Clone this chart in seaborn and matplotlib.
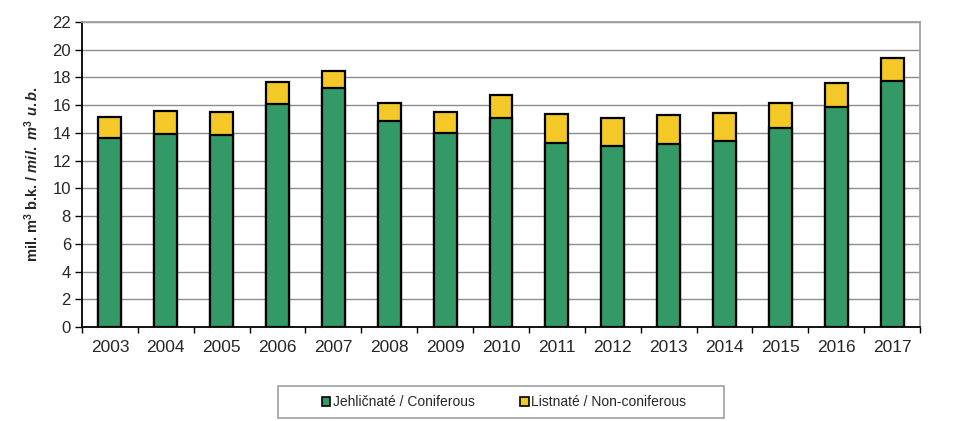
import pandas as pd
import seaborn as sns
import matplotlib.pyplot as plt
from matplotlib.patches import Patch, Rectangle

# data
years = ['2003', '2004', '2005', '2006', '2007', '2008', '2009', '2010',
         '2011', '2012', '2013', '2014', '2015', '2016', '2017']
coniferous = [13.62, 13.89, 13.85, 16.08, 17.22, 14.86, 14.00, 15.07,
              13.29, 13.02, 13.17, 13.43, 14.35, 15.89, 17.75]
non_coniferous = [1.50, 1.71, 1.65, 1.60, 1.28, 1.32, 1.48, 1.64,
                  2.07, 2.03, 2.15, 2.03, 1.79, 1.71, 1.62]

df = pd.DataFrame({'year': years, 'conif': coniferous, 'nonconif': non_coniferous})
df['total'] = df['conif'] + df['nonconif']

green = '#339966'
yellow = '#F4C826'

sns.set_style('white')
plt.rcParams['font.family'] = ['Liberation Sans', 'DejaVu Sans']
plt.rcParams['mathtext.fontset'] = 'custom'
plt.rcParams['mathtext.rm'] = 'Liberation Sans:bold'
plt.rcParams['mathtext.it'] = 'Liberation Sans:italic:bold'

fig = plt.figure(figsize=(9.7, 4.21), dpi=100)
ax = fig.add_axes([82 / 970, 1 - 327 / 421, (920 - 82) / 970, (327 - 22) / 421])

# yellow totals first, green drawn over them -> stacked look
sns.barplot(data=df, x='year', y='total', color=yellow, width=0.41,
            edgecolor='black', linewidth=1.6, saturation=1, ax=ax, zorder=3)
sns.barplot(data=df, x='year', y='conif', color=green, width=0.41,
            edgecolor='black', linewidth=1.6, saturation=1, ax=ax, zorder=4)

ax.set_ylim(0, 22)
ax.set_xlim(-0.5, len(years) - 0.5)
ax.set_yticks(range(0, 23, 2))
ax.yaxis.grid(True, color='#8c8c8c', linewidth=1)
ax.set_axisbelow(True)

ax.tick_params(axis='y', labelsize=12, direction='out', length=5, width=1, color='black', left=True, pad=3)
ax.tick_params(axis='x', labelsize=12.5, length=0, pad=9)
ax.set_xticks([i + 0.5 for i in range(-1, len(years))], minor=True)
ax.tick_params(axis='x', which='minor', direction='out', length=4, width=1, color='black', bottom=True)

for side in ['left', 'bottom']:
    ax.spines[side].set_color('black')
    ax.spines[side].set_linewidth(1.3)
for side in ['top', 'right']:
    ax.spines[side].set_color('#a0a0a0')
    ax.spines[side].set_linewidth(1.3)

ax.set_xlabel('')
ax.set_ylabel(r'mil. m$^3$ b.k. / $\mathit{mil.\ m^3\ u.b.}$', fontsize=10.5, fontweight='bold', labelpad=8)

# legend box drawn separately so it can be wider than the entries
fig.patches.append(Rectangle((278 / 970, 1 - 418 / 421), 446 / 970, 32 / 421,
                             transform=fig.transFigure, facecolor='white',
                             edgecolor='#a0a0a0', linewidth=1.2))
handles = [Patch(facecolor=green, edgecolor='black', linewidth=1.2, label='Jehličnaté / Coniferous'),
           Patch(facecolor=yellow, edgecolor='black', linewidth=1.2, label='Listnaté / Non-coniferous')]
fig.legend(handles=handles, loc='center', bbox_to_anchor=(504 / 970, 1 - 402 / 421),
           ncol=2, fontsize=10, frameon=False,
           handlelength=0.6, handleheight=0.6, handletextpad=0.2, columnspacing=3.3)

plt.savefig('out.png', dpi=100)
